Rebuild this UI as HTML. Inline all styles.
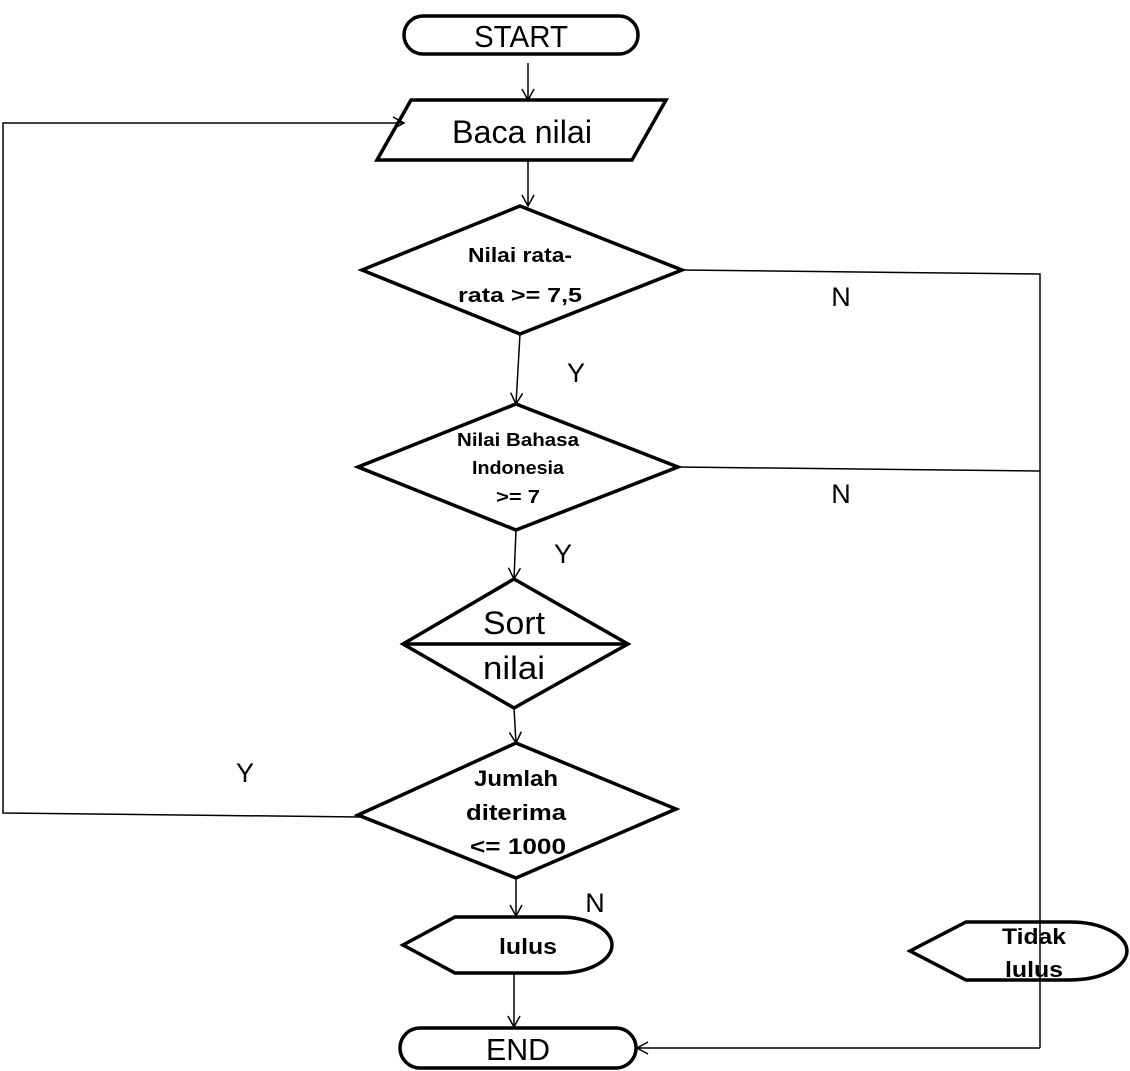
<!DOCTYPE html>
<html><head><meta charset="utf-8"><style>html,body{margin:0;padding:0;background:#fff}svg{display:block}</style></head>
<body>
<svg width="1130" height="1071" viewBox="0 0 1130 1071" xmlns="http://www.w3.org/2000/svg" font-family="Liberation Sans, sans-serif">
<defs>
<marker id="a" markerWidth="14" markerHeight="14" refX="12" refY="7" orient="auto" markerUnits="userSpaceOnUse">
<path d="M1,1 L12,7 L1,13" fill="none" stroke="#000" stroke-width="1.5"/>
</marker>
</defs>
<g fill="none" stroke="#000" stroke-width="3.5">
<rect x="404" y="16" width="234" height="38" rx="19"/>
<polygon points="377,160 411,100 666,100 632,160"/>
<polygon points="520,206 682,270 520,334 362,270"/>
<polygon points="516,404 678,467 516,530 358,467"/>
<polygon points="514,579 628,644 514,708 403,644"/>
<line x1="403" y1="644" x2="628" y2="644"/>
<polygon points="516,743 676,809 516,878 358,815"/>
<path d="M455,917 L560,917 A52,28 0 0 1 560,973 L455,973 L403,945 Z"/>
<path d="M966,922 L1070,922 A57,29 0 0 1 1070,980 L966,980 L910,951 Z"/>
<rect x="400" y="1028" width="236" height="40" rx="20"/>
</g>
<g fill="none" stroke="#000" stroke-width="1.5">
<line x1="528" y1="63" x2="528" y2="100" marker-end="url(#a)"/>
<line x1="528" y1="160" x2="528" y2="206" marker-end="url(#a)"/>
<line x1="520" y1="334" x2="516" y2="404" marker-end="url(#a)"/>
<line x1="516" y1="530" x2="514" y2="579" marker-end="url(#a)"/>
<line x1="514" y1="708" x2="516" y2="743" marker-end="url(#a)"/>
<line x1="516" y1="878" x2="516" y2="916" marker-end="url(#a)"/>
<line x1="514" y1="973" x2="514" y2="1027" marker-end="url(#a)"/>
<polyline points="682,270 1040,274 1040,1048"/>
<line x1="678" y1="467" x2="1040" y2="471"/>
<line x1="1040" y1="1048" x2="637" y2="1048" marker-end="url(#a)"/>
<polyline points="360,817 3,813 3,123 404,123" marker-end="url(#a)"/>
</g>
<g fill="#000" text-anchor="middle">
<text x="521" y="47" font-size="31" textLength="94" lengthAdjust="spacingAndGlyphs">START</text>
<text x="522" y="143" font-size="32" textLength="140" lengthAdjust="spacingAndGlyphs">Baca nilai</text>
<text x="520" y="262" font-size="20" font-weight="bold" textLength="104" lengthAdjust="spacingAndGlyphs">Nilai rata-</text>
<text x="520" y="302" font-size="20" font-weight="bold" textLength="124" lengthAdjust="spacingAndGlyphs">rata &gt;= 7,5</text>
<text x="518" y="446" font-size="18" font-weight="bold" textLength="122" lengthAdjust="spacingAndGlyphs">Nilai Bahasa</text>
<text x="518" y="474" font-size="18" font-weight="bold" textLength="92" lengthAdjust="spacingAndGlyphs">Indonesia</text>
<text x="518" y="503" font-size="18" font-weight="bold" textLength="44" lengthAdjust="spacingAndGlyphs">&gt;= 7</text>
<text x="514" y="634" font-size="32" textLength="62" lengthAdjust="spacingAndGlyphs">Sort</text>
<text x="514" y="679" font-size="32" textLength="62" lengthAdjust="spacingAndGlyphs">nilai</text>
<text x="516" y="786" font-size="22" font-weight="bold" textLength="84" lengthAdjust="spacingAndGlyphs">Jumlah</text>
<text x="516" y="820" font-size="22" font-weight="bold" textLength="100" lengthAdjust="spacingAndGlyphs">diterima</text>
<text x="518" y="854" font-size="22" font-weight="bold" textLength="96" lengthAdjust="spacingAndGlyphs">&lt;= 1000</text>
<text x="528" y="954" font-size="22" font-weight="bold" textLength="58" lengthAdjust="spacingAndGlyphs">lulus</text>
<text x="1034" y="944" font-size="22" font-weight="bold" textLength="64" lengthAdjust="spacingAndGlyphs">Tidak</text>
<text x="1034" y="977" font-size="22" font-weight="bold" textLength="58" lengthAdjust="spacingAndGlyphs">lulus</text>
<text x="518" y="1060" font-size="31" textLength="64" lengthAdjust="spacingAndGlyphs">END</text>
<text x="841" y="306" font-size="27">N</text>
<text x="841" y="503" font-size="27">N</text>
<text x="576" y="382" font-size="27">Y</text>
<text x="563" y="563" font-size="27">Y</text>
<text x="245" y="782" font-size="27">Y</text>
<text x="595" y="912" font-size="27">N</text>
</g>
</svg>
</body></html>
